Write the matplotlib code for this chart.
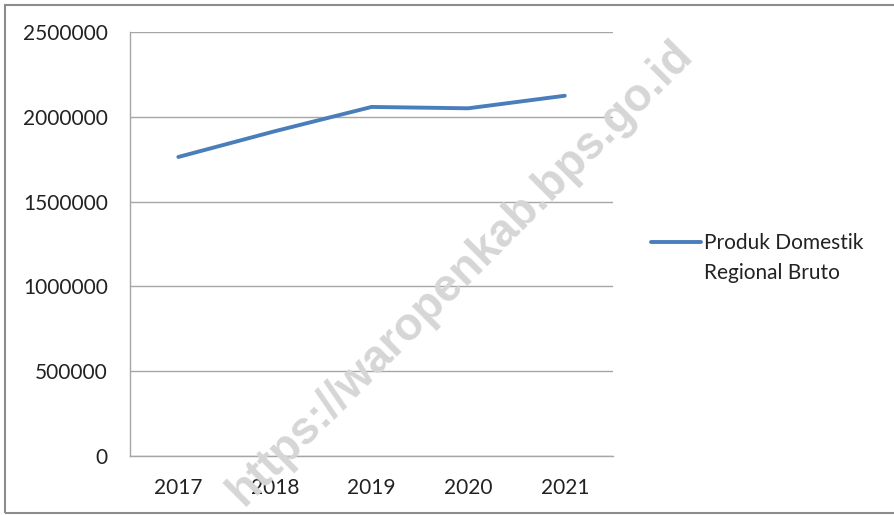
import matplotlib
matplotlib.use("Agg")
import matplotlib.pyplot as plt

# data
years = ["2017", "2018", "2019", "2020", "2021"]
pdrb = [1763000, 1915000, 2058000, 2050000, 2124000]
series_label = ["Produk Domestik", "Regional Bruto"]
y_ticks = [0, 500000, 1000000, 1500000, 2000000, 2500000]

plt.rcParams['font.family'] = ['Lato', 'DejaVu Sans']

fig = plt.figure(figsize=(8.95, 5.15), dpi=100)
ax = fig.add_axes([0.1453, 0.1146, 0.5397, 0.8233])

line, = ax.plot(range(len(years)), pdrb, color='#4a7ebb', linewidth=2.8,
                solid_capstyle='round', label=series_label[0], zorder=3)

ax.set_xlim(-0.5, len(years) - 0.5)
ax.set_ylim(0, 2500000)
ax.set_xticks(range(len(years)))
ax.set_xticklabels(years)
ax.set_yticks(y_ticks)
ax.set_yticklabels([str(v) for v in y_ticks])
ax.tick_params(length=0, labelsize=15, colors='#222222')
ax.tick_params(axis='y', pad=16)
ax.tick_params(axis='x', pad=16)
ax.grid(axis='y', color='#a6a6a6', linewidth=1)
ax.set_axisbelow(True)
for s in ['top', 'right']:
    ax.spines[s].set_visible(False)
for s in ['left', 'bottom']:
    ax.spines[s].set_color('#a6a6a6')
    ax.spines[s].set_linewidth(1)

# legend: line sits next to the first line of the label, second line below
leg = fig.legend(handles=[line], loc='upper left', bbox_to_anchor=(0.706, 0.584),
                 frameon=False, fontsize=15, handlelength=2.4, handletextpad=0.15)
leg.get_texts()[0].set_color('#222222')
fig.canvas.draw()
bb = leg.get_texts()[0].get_window_extent().transformed(fig.transFigure.inverted())
fig.text(bb.x0, bb.y0 - 30 / 515, series_label[1], fontsize=15, color='#222222',
         ha='left', va='bottom')

# watermark
fig.text(0.515, 0.47, "https://waropenkab.bps.go.id", rotation=45,
         ha='center', va='center', fontsize=33, fontweight='bold',
         family='Liberation Sans', color='#d6d6d6', zorder=0)

# outer frame
fig.patches.append(plt.Rectangle((0.006, 0.004), 1.2, 0.987,
                                 transform=fig.transFigure, fill=False,
                                 edgecolor='#8c8c8c', linewidth=1.5))

fig.savefig("out.png", dpi=100)
